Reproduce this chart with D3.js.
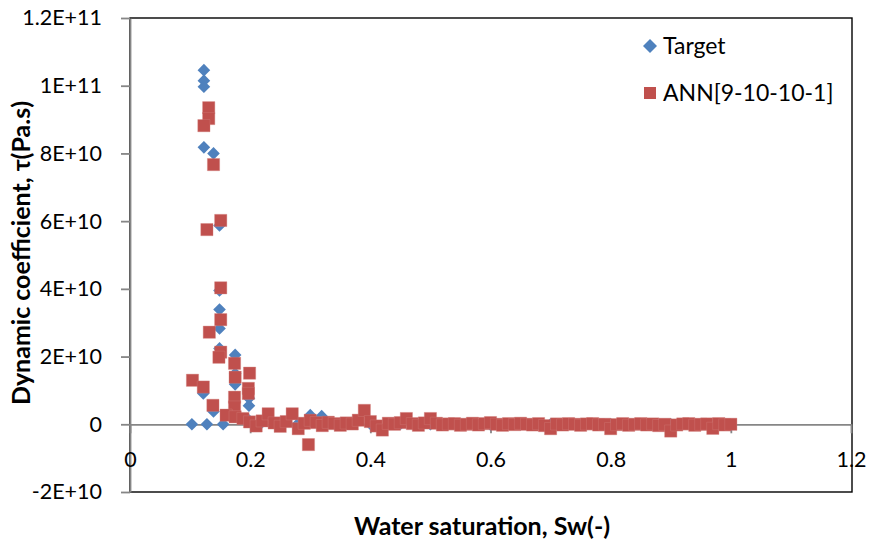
<!DOCTYPE html>
<html>
<head>
<meta charset="utf-8">
<script src="https://cdn.jsdelivr.net/npm/d3@7.9.0/dist/d3.min.js"></script>
<style>
  html, body { margin: 0; padding: 0; background: #fff; }
  svg { display: block; font-family: Lato, "Open Sans", sans-serif; }
</style>
</head>
<body>
<svg id="chart" width="869" height="548"></svg>
<script>
// Target (measured) dynamic coefficient
const targetSw = [
  0.103, 0.128, 0.155, 0.123, 0.123, 0.123, 0.123, 0.139, 0.149, 0.149,
  0.149, 0.149, 0.149, 0.175, 0.175, 0.175, 0.122, 0.198, 0.198, 0.139,
  0.198, 0.22, 0.25, 0.28, 0.30, 0.319, 0.35, 0.40, 0.45, 0.50,
  0.55, 0.60, 0.65, 0.70, 0.75, 0.80, 0.85, 0.90, 0.95, 1.00
];
const targetTau = [
  0, 0, 0, 1.046e11, 1.015e11, 0.997e11, 8.18e10, 8.0e10, 5.87e10, 3.95e10,
  3.39e10, 2.83e10, 2.24e10, 2.05e10, 1.5e10, 1.18e10, 0.91e10, 0.77e10, 0.55e10, 0.38e10,
  1.2e9, 6e8, 3e8, 2e8, 2.7e9, 2.4e9, 2e8, 1e8, 1e8, 0,
  0, -1e8, 0, 0, 0, 0, 0, 0, 0, -2e8
];

// ANN[9-10-10-1] prediction
const annSw = [
  0.104, 0.128, 0.131, 0.131, 0.123, 0.139, 0.151, 0.151, 0.151, 0.132,
  0.151, 0.148, 0.174, 0.175, 0.199, 0.122, 0.197, 0.197, 0.174, 0.138,
  0.174, 0.160, 0.175, 0.188, 0.199, 0.297,
  0.21, 0.22, 0.23, 0.24, 0.25, 0.26, 0.27, 0.28, 0.29, 0.30,
  0.31, 0.32, 0.33, 0.34, 0.35, 0.36, 0.37, 0.38, 0.39, 0.40,
  0.41, 0.42, 0.43, 0.44, 0.45, 0.46, 0.47, 0.48, 0.49, 0.50,
  0.51, 0.52, 0.53, 0.54, 0.55, 0.56, 0.57, 0.58, 0.59, 0.60,
  0.61, 0.62, 0.63, 0.64, 0.65, 0.66, 0.67, 0.68, 0.69, 0.70,
  0.71, 0.72, 0.73, 0.74, 0.75, 0.76, 0.77, 0.78, 0.79, 0.80,
  0.81, 0.82, 0.83, 0.84, 0.85, 0.86, 0.87, 0.88, 0.89, 0.90,
  0.91, 0.92, 0.93, 0.94, 0.95, 0.96, 0.97, 0.98, 0.99, 1.00
];
const annTau = [
  1.30e10, 5.75e10, 9.35e10, 9.03e10, 8.82e10, 7.67e10, 6.02e10, 4.03e10, 3.09e10, 2.72e10,
  2.13e10, 1.98e10, 1.80e10, 1.39e10, 1.51e10, 1.10e10, 1.06e10, 0.91e10, 0.80e10, 0.56e10,
  0.51e10, 0.27e10, 0.22e10, 0.17e10, 0.07e10, -6.0e9,
  -0.5e9, 1.0e9, 3.1e9, 0.4e9, -0.6e9, 0.8e9, 3.1e9, -1.3e9, 0.3e9, 1.2e9,
  0.5e9, -0.4e9, 0.6e9, 0.2e9, -0.3e9, 0.4e9, 0.1e9, 1.2e9, 4.1e9, 0.8e9,
  -0.5e9, -1.7e9, 0.3e9, 0.0, 0.5e9, 1.7e9, 0.2e9, -0.3e9, 0.4e9, 1.7e9,
  0.3e9, -0.2e9, 0.1e9, 0.2e9, -0.3e9, 0.0, 0.3e9, -0.2e9, 0.2e9, 0.5e9,
  0.0, -0.3e9, 0.2e9, -0.1e9, 0.3e9, 0.0, -0.2e9, 0.2e9, -0.4e9, -1.3e9,
  0.1e9, -0.2e9, 0.2e9, 0.0, -0.3e9, 0.1e9, 0.2e9, -0.2e9, 0.0, -1.3e9,
  -0.1e9, 0.2e9, -0.3e9, 0.0, 0.2e9, -0.2e9, 0.1e9, -0.4e9, 0.0, -2.0e9,
  -0.2e9, 0.1e9, 0.2e9, -0.3e9, 0.0, 0.1e9, -1.2e9, 0.2e9, -0.2e9, 0.0
];

const xTicks = [0, 0.2, 0.4, 0.6, 0.8, 1, 1.2];
const xTickLabels = ["0", "0.2", "0.4", "0.6", "0.8", "1", "1.2"];
const yTicks = [-2e10, 0, 2e10, 4e10, 6e10, 8e10, 1e11, 1.2e11];
const yTickLabels = ["-2E+10", "0", "2E+10", "4E+10", "6E+10", "8E+10", "1E+11", "1.2E+11"];
const seriesNames = ["Target", "ANN[9-10-10-1]"];
const seriesColors = ["#4F81BD", "#C0504D"];

const svg = d3.select("#chart");
const plot = { left: 130, right: 852, top: 18, bottom: 492 };

const x = d3.scaleLinear().domain([0, 1.2]).range([plot.left, plot.right - 1]);
const y = d3.scaleLinear().domain([-2e10, 1.2e11]).range([plot.bottom, plot.top]);

// plot area frame
svg.append("rect")
  .attr("x", plot.left)
  .attr("y", plot.top)
  .attr("width", plot.right - plot.left)
  .attr("height", plot.bottom - plot.top)
  .attr("fill", "none")
  .attr("stroke", "#000")
  .attr("stroke-width", 1.4);

const axisColor = "#868686";

const yAxis = svg.append("g")
  .attr("transform", `translate(${plot.left},0)`)
  .call(
    d3.axisLeft(y)
      .tickValues(yTicks)
      .tickFormat((d, i) => yTickLabels[i])
      .tickSize(9)
      .tickSizeOuter(0)
      .tickPadding(19),
  );

const xAxis = svg.append("g")
  .attr("transform", `translate(0,${y(0)})`)
  .call(
    d3.axisBottom(x)
      .tickValues(xTicks)
      .tickFormat((d, i) => xTickLabels[i])
      .tickSize(9)
      .tickSizeOuter(0),
  );

[xAxis, yAxis].forEach((g) => {
  g.select(".domain").attr("stroke", axisColor).attr("stroke-width", 1.8);
  g.selectAll(".tick line").attr("stroke", axisColor).attr("stroke-width", 1.8);
  g.selectAll(".tick text")
    .attr("fill", "#000")
    .attr("font-size", 21.5)
    .attr("font-family", "Lato, 'Open Sans', sans-serif");
});

xAxis.selectAll(".tick text").attr("dy", null).attr("y", 43);

// markers
const diamond = d3.symbol(d3.symbolSquare, 80);
const square = d3.symbol(d3.symbolSquare, 150);

const targetData = targetSw.map((s, i) => ({ sw: s, tau: targetTau[i] }));
const annData = annSw.map((s, i) => ({ sw: s, tau: annTau[i] }));

svg.append("g")
  .selectAll("path")
  .data(targetData)
  .join("path")
  .attr("d", diamond)
  .attr("transform", (d) => `translate(${x(d.sw)},${y(d.tau)}) rotate(45)`)
  .attr("fill", seriesColors[0]);

svg.append("g")
  .selectAll("path")
  .data(annData)
  .join("path")
  .attr("d", square)
  .attr("transform", (d) => `translate(${x(d.sw)},${y(d.tau)})`)
  .attr("fill", seriesColors[1])
  .attr("stroke", "#d27d7a")
  .attr("stroke-width", 0.6)
  .attr("stroke-opacity", 0.6);

// legend
const legend = svg.append("g").attr("transform", "translate(650,0)");
const legendY = [46, 93];

legend.append("path")
  .attr("d", d3.symbol(d3.symbolSquare, 98)())
  .attr("transform", `translate(0,${legendY[0]}) rotate(45)`)
  .attr("fill", seriesColors[0]);

legend.append("path")
  .attr("d", d3.symbol(d3.symbolSquare, 144)())
  .attr("transform", `translate(0,${legendY[1]})`)
  .attr("fill", seriesColors[1]);

legend.selectAll("text")
  .data(seriesNames)
  .join("text")
  .attr("x", 13)
  .attr("y", (d, i) => legendY[i] + 7.5)
  .attr("font-size", 23)
  .attr("fill", "#000")
  .text((d) => d);

// axis titles
svg.append("text")
  .attr("x", 482)
  .attr("y", 535)
  .attr("text-anchor", "middle")
  .attr("font-size", 25)
  .attr("font-weight", "bold")
  .attr("fill", "#000")
  .text("Water saturation, Sw(-)");

svg.append("text")
  .attr("transform", "translate(30,253) rotate(-90)")
  .attr("text-anchor", "middle")
  .attr("font-size", 25)
  .attr("font-weight", "bold")
  .attr("fill", "#000")
  .text("Dynamic coefficient, τ(Pa.s)");
</script>
</body>
</html>
